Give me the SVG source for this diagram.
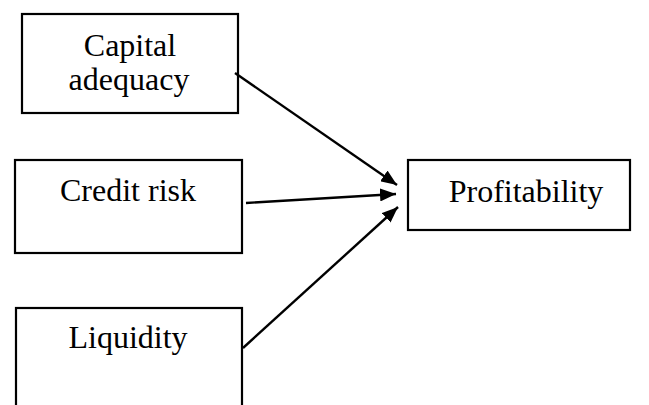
<svg xmlns="http://www.w3.org/2000/svg" width="649" height="405" viewBox="0 0 649 405">
<style>
.box{fill:#fff;stroke:#000;stroke-width:2.2}
.lbl{font-family:"Liberation Serif","Times New Roman",serif;font-size:32px;fill:#000;text-anchor:middle}
.conn{stroke:#000;stroke-width:2.4;fill:none;marker-end:url(#ah)}
</style>
<defs>
<marker id="ah" markerUnits="userSpaceOnUse" viewBox="0 0 16 13" refX="16" refY="6.5" markerWidth="16" markerHeight="13" orient="auto">
<path d="M0,0 L16,6.5 L0,13 Z" fill="#000"/>
</marker>
</defs>
<rect width="649" height="405" fill="#fff"/>
<g id="capital">
<rect class="box" x="22" y="14" width="216" height="99"/>
<text class="lbl" x="130" y="56">Capital</text>
<text class="lbl" x="129" y="90">adequacy</text>
</g>
<g id="credit">
<rect class="box" x="15" y="160" width="227" height="93"/>
<text class="lbl" x="128" y="201">Credit risk</text>
</g>
<g id="liquidity">
<rect class="box" x="16" y="308" width="226" height="110"/>
<text class="lbl" x="128" y="348">Liquidity</text>
</g>
<g id="profitability">
<rect class="box" x="408" y="160" width="222" height="70"/>
<text class="lbl" x="526" y="202">Profitability</text>
</g>
<g id="connectors">
<line class="conn" x1="235" y1="73" x2="397" y2="185"/>
<line class="conn" x1="246" y1="203" x2="396" y2="194"/>
<line class="conn" x1="243" y1="348" x2="398" y2="207"/>
</g>
</svg>
